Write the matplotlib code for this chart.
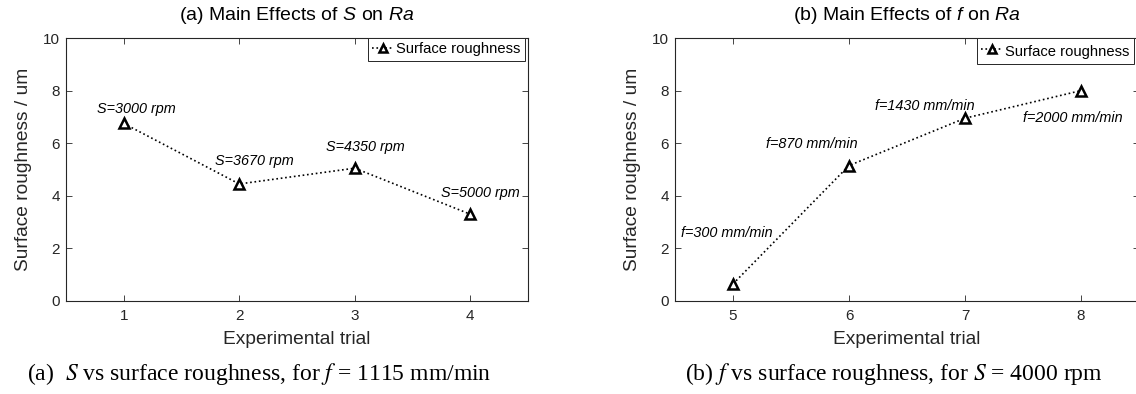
import matplotlib.pyplot as plt

plt.rcParams['font.family'] = ['Liberation Sans', 'DejaVu Sans']
plt.rcParams['mathtext.fontset'] = 'custom'
plt.rcParams['mathtext.it'] = 'Liberation Sans:italic'
plt.rcParams['mathtext.rm'] = 'Liberation Sans'

# Panel (a): spindle speed S
trials_a = [1, 2, 3, 4]
ra_a = [6.75, 4.45, 5.05, 3.3]
labels_a = ['S=3000 rpm', 'S=3670 rpm', 'S=4350 rpm', 'S=5000 rpm']
label_pos_a = [(1.11, 7.3), (2.13, 5.34), (3.09, 5.85), (4.09, 4.11)]

# Panel (b): feed rate f
trials_b = [5, 6, 7, 8]
ra_b = [0.65, 5.15, 6.95, 8.0]
labels_b = ['f=300 mm/min', 'f=870 mm/min', 'f=1430 mm/min', 'f=2000 mm/min']
label_pos_b = [(4.95, 2.59), (5.68, 5.97), (6.65, 7.43), (7.93, 6.96)]

ink = '#262626'

fig = plt.figure(figsize=(11.36, 3.94), dpi=100)
W, H = 1136, 394


def px_axes(x0, x1, y0, y1):
    return fig.add_axes([x0 / W, 1 - y1 / H, (x1 - x0) / W, (y1 - y0) / H])


ax1 = px_axes(66, 528, 38, 301)
ax2 = px_axes(675, 1139, 38, 301)


def draw(ax, x, y, labels, pos, title, xlim, caption, cap_x, leg_anchor, leg_hh):
    ax.plot(x, y, linestyle=':', color='black', lw=1.2, marker='^', markersize=7.5,
            markerfacecolor='white', markeredgecolor='black', markeredgewidth=1.8,
            label='Surface roughness')
    for t, (tx, ty) in zip(labels, pos):
        ax.text(tx, ty, t, ha='center', va='center', fontsize=10.4, style='italic',
                color='black')
    ax.set_xlim(*xlim)
    ax.set_ylim(0, 10)
    ax.set_xticks(x)
    ax.set_yticks([0, 2, 4, 6, 8, 10])
    ax.tick_params(direction='in', top=True, right=True, labelsize=11,
                   colors=ink, length=4, width=0.6)
    ax.tick_params(axis='x', pad=6)
    ax.tick_params(axis='y', pad=4.5)
    for s in ax.spines.values():
        s.set_color(ink)
        s.set_linewidth(0.8)
    ax.set_xlabel('Experimental trial', fontsize=13.8, color=ink, va='center')
    ax.xaxis.set_label_coords(0.5, -(339 - 301) / 263)
    ax.set_ylabel('Surface roughness / um', fontsize=13.8, color=ink, va='center')
    ax.yaxis.set_label_coords(-42 / 462, 0.5)
    ax_box = ax.get_position()
    fig.text((ax_box.x0 + ax_box.x1) / 2, 1 - 15 / H, title, ha='center', va='center',
             fontsize=14, color='black')
    leg = ax.legend(loc='upper right', bbox_to_anchor=(leg_anchor / W, 1 - 38 / H),
                    bbox_transform=fig.transFigure, fontsize=10.6, handlelength=1.5,
                    handletextpad=0.15, handleheight=leg_hh, borderpad=0.3,
                    markerscale=0.85, fancybox=False, framealpha=1, borderaxespad=0)
    leg.get_frame().set_edgecolor(ink)
    leg.get_frame().set_linewidth(0.7)
    fig.text(cap_x / W, 1 - 374 / H, caption, ha='center', va='center',
             fontsize=17, family=['Liberation Serif', 'DejaVu Serif'],
             math_fontfamily='stix')


draw(ax1, trials_a, ra_a, labels_a, label_pos_a,
     '(a) Main Effects of $\\mathit{S}$ on $\\mathit{Ra}$', (0.5, 4.5),
     '(a)  $\\mathit{S}$ vs surface roughness, for $\\mathit{f}$ = 1115 mm/min', 259,
     525, 0.7)
draw(ax2, trials_b, ra_b, labels_b, label_pos_b,
     '(b) Main Effects of $\\mathit{f}$ on $\\mathit{Ra}$', (4.5, 8.5),
     '(b) $\\mathit{f}$ vs surface roughness, for $\\mathit{S}$ = 4000 rpm', 894,
     1134, 1.4)

fig.savefig('out.png', dpi=100)
